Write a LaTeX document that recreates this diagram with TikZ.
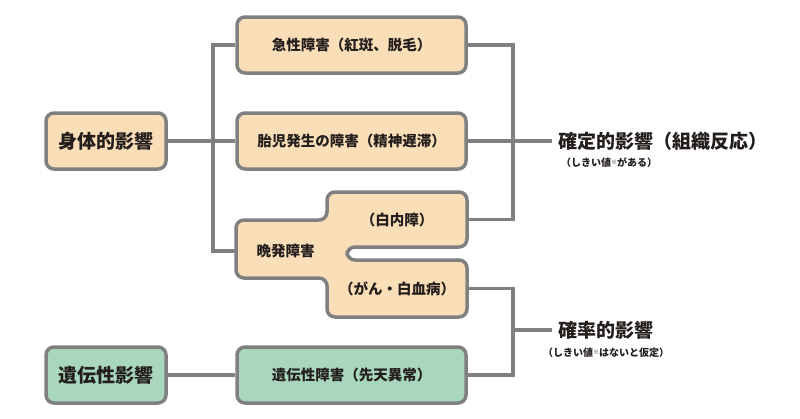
\documentclass[tikz,border=0pt]{standalone}
\usepackage{fontspec}
\setmainfont{Noto Sans CJK JP}
\definecolor{boxline}{RGB}{128,128,128}
\definecolor{orfill}{RGB}{250,222,184}
\definecolor{grfill}{RGB}{168,215,190}
\definecolor{txt}{RGB}{35,30,28}
\tikzset{
  every node/.style={text=txt, font=\bfseries},
  obox/.style={draw=boxline, line width=3.5pt, rounded corners=8pt, fill=orfill, inner sep=0pt, minimum height=56pt},
  gbox/.style={obox, fill=grfill},
  ghost/.style={inner sep=0pt},
  conn/.style={draw=boxline, line width=3.5pt},
  big/.style={font=\fontsize{19}{22}\selectfont\bfseries},
  mid/.style={font=\fontsize{14.5}{17}\selectfont\bfseries},
  small/.style={font=\fontsize{10}{12}\selectfont\bfseries},
}
\begin{document}
\begin{tikzpicture}[x=1pt,y=-1pt]
\useasboundingbox (0,0) rectangle (800,418);
% late compound shape
\draw[draw=boxline, line width=3.5pt, fill=orfill, rounded corners=8pt]
  (236,220) -- (327,220) -- (327,192) -- (467,192) -- (467,247) -- (347,247)
  -- (347,260) -- (467,260) -- (467,317) -- (327,317) -- (327,278) -- (236,278) -- cycle;
\node[ghost, minimum width=140pt, minimum height=55pt, mid] (lateTop) at (397,219.5) {（白内障）};
\node[ghost, minimum width=140pt, minimum height=57pt, mid] (lateBot) at (397,288.5) {（がん・白血病）};
\node[ghost, minimum width=111pt, minimum height=58pt] (lateLeft) at (291.5,251) {};
\node[mid, anchor=west] (lateLbl) at (253,251) {晩発障害};
% boxes
\node[obox, minimum width=120pt, big] (phys) at (106,141) {身体的影響};
\node[obox, minimum width=229pt, mid] (acute) at (351.5,45) {急性障害（紅斑、脱毛）};
\node[obox, minimum width=229pt, mid] (fetal) at (351.5,141) {胎児発生の障害（精神遅滞）};
\node[gbox, minimum width=120pt, big] (gen) at (106,375) {遺伝性影響};
\node[gbox, minimum width=229pt, mid] (gend) at (351.5,375) {遺伝性障害（先天異常）};
% right labels
\node[big, anchor=west, inner sep=0pt] (det) at (558,141) {確定的影響（組織反応）};
\node[small, anchor=west, inner sep=0pt] (detsub) at (561,163) {（しきい値\raisebox{2pt}{\fontsize{6}{6}\selectfont ※}がある）};
\node[big, anchor=west, inner sep=0pt] (sto) at (558,330) {確率的影響};
\node[small, anchor=west, inner sep=0pt] (stosub) at (543,353) {（しきい値\raisebox{2pt}{\fontsize{6}{6}\selectfont ※}はないと仮定）};
% junction coordinates
\coordinate (tl) at (213,45);
\coordinate (tr) at (513,45);
\coordinate (br) at (513,375);
% left connectors
\draw[conn] (phys.east) -- (fetal.west);
\draw[conn] (acute.west) -| (tl) -- (tl |- lateLeft) -- (lateLeft.west);
% right upper bracket
\draw[conn] (acute.east) -| (tr) |- (lateTop.east);
\draw[conn] (fetal.east) -- ([xshift=-6pt]det.west);
% right lower bracket
\draw[conn] (lateBot.east) -| (br) -- (gend.east);
\draw[conn] (sto.west -| br) -- ([xshift=-6pt]sto.west);
% genetic
\draw[conn] (gen.east) -- (gend.west);
\end{tikzpicture}
\end{document}
